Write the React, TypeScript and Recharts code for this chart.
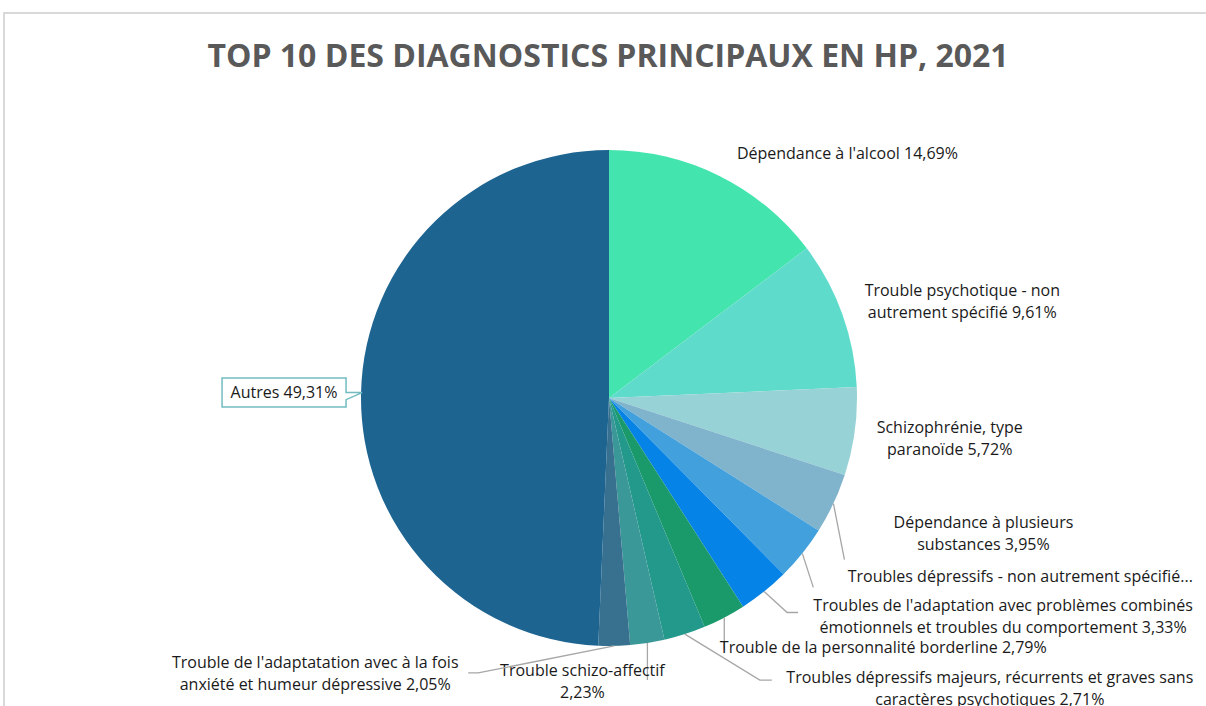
import React from 'react';
import { PieChart, Pie, Cell } from 'recharts';

const categories: string[] = [
  "Dépendance à l'alcool",
  'Trouble psychotique - non autrement spécifié',
  'Schizophrénie, type paranoïde',
  'Dépendance à plusieurs substances',
  'Troubles dépressifs - non autrement spécifié',
  "Troubles de l'adaptation avec problèmes combinés émotionnels et troubles du comportement",
  'Trouble de la personnalité borderline',
  'Troubles dépressifs majeurs, récurrents et graves sans caractères psychotiques',
  'Trouble schizo-affectif',
  "Trouble de l'adaptatation avec à la fois anxiété et humeur dépressive",
  'Autres',
];
const values: number[] = [14.69, 9.61, 5.72, 3.95, 3.61, 3.33, 2.79, 2.71, 2.23, 2.05, 49.31];
const labelLines: string[][] = [
  ["Dépendance à l'alcool 14,69%"],
  ['Trouble psychotique - non', 'autrement spécifié 9,61%'],
  ['Schizophrénie, type', 'paranoïde 5,72%'],
  ['Dépendance à plusieurs', 'substances 3,95%'],
  ['Troubles dépressifs - non autrement spécifié...'],
  ["Troubles de l'adaptation avec problèmes combinés", 'émotionnels et troubles du comportement 3,33%'],
  ['Trouble de la personnalité borderline 2,79%'],
  ['Troubles dépressifs majeurs, récurrents et graves sans', 'caractères psychotiques 2,71%'],
  ['Trouble schizo-affectif', '2,23%'],
  ["Trouble de l'adaptatation avec à la fois", 'anxiété et humeur dépressive 2,05%'],
  ['Autres 49,31%'],
];
const colors: string[] = [
  '#43E4AE', '#5FDBCB', '#96D2D6', '#80B3CC', '#42A0DD', '#0683E6',
  '#1A9A6B', '#22998A', '#3B9898', '#37718F', '#1D6491',
];

const data = categories.map((name, i) => ({ name, value: values[i] }));

// label placement offsets relative to the slice's outer edge point
const labelLayout: { dx: number; dy: number; leader: number[][]; box?: boolean }[] = [
  { dx: 128, dy: -22, leader: [] },
  { dx: 120, dy: -12, leader: [] },
  { dx: 95, dy: 7, leader: [] },
  { dx: 150, dy: 30, leader: [[0, 0], [11, 56]] },
  { dx: 218, dy: 23, leader: [[0, 0], [11, 34]] },
  { dx: 239, dy: 25, leader: [[0, 0], [23, 21], [34, 21]] },
  { dx: 159, dy: 30, leader: [[0, 0], [0, 32]] },
  { dx: 305, dy: 54, leader: [[0, 0], [75, 46], [87, 46]] },
  { dx: -65, dy: 38, leader: [[0, 0], [0, 37]] },
  { dx: -299, dy: 28, leader: [[0, 0], [-136, 27], [-146, 27]] },
  { dx: -77, dy: 0, leader: [], box: true },
];

const RADIAN = Math.PI / 180;
const LINE_H = 22;
const FONT = 16;

const renderLabel = (props: any) => {
  const { cx, cy, midAngle, outerRadius, index } = props;
  const ex = cx + outerRadius * Math.cos(-midAngle * RADIAN);
  const ey = cy + outerRadius * Math.sin(-midAngle * RADIAN);
  const lay = labelLayout[index];
  const lines = labelLines[index];
  const tx = ex + lay.dx;
  const tyc = ey + lay.dy;
  const top = tyc - ((lines.length - 1) * LINE_H) / 2;
  const leader = lay.leader.map(([a, b]) => `${ex + a},${ey + b}`).join(' ');
  let boxEl = null;
  if (lay.box) {
    const w = 124;
    const h = 29;
    const bx = tx - w / 2;
    const by = tyc - h / 2;
    const path = `M${bx},${by} L${bx + w},${by} L${bx + w},${tyc} L${ex + 1},${ey} L${bx + w},${tyc + 7} L${bx + w},${by + h} L${bx},${by + h} Z`;
    boxEl = <path d={path} fill="#ffffff" stroke="#72BCC0" strokeWidth={1.5} />;
  }
  return (
    <g key={`lbl-${index}`}>
      {leader && <polyline points={leader} fill="none" stroke="#A6A6A6" strokeWidth={1.3} />}
      {boxEl}
      <text
        x={tx}
        y={top + 5.5}
        textAnchor="middle"
        fill="#1A1A1A"
        fontSize={FONT}
        fontFamily="'Open Sans', sans-serif"
      >
        {lines.map((l, i) => (
          <tspan key={i} x={tx} y={top + 5.5 + i * LINE_H}>
            {l}
          </tspan>
        ))}
      </text>
    </g>
  );
};

export default function App() {
  return (
    <div
      style={{
        position: 'absolute',
        left: 0,
        top: 0,
        width: 1206,
        height: 706,
        background: '#ffffff',
        overflow: 'hidden',
        fontFamily: "'Open Sans', sans-serif",
      }}
    >
      <div
        style={{
          position: 'absolute',
          left: 3,
          top: 12,
          width: 1230,
          height: 720,
          borderTop: '2px solid #D9D9D9',
          borderLeft: '2px solid #D9D9D9',
        }}
      />
      <div
        style={{
          position: 'absolute',
          left: 0,
          top: 33,
          width: 1216,
          textAlign: 'center',
          fontSize: 32,
          fontWeight: 700,
          color: '#595959',
          lineHeight: '44px',
        }}
      >
        TOP 10 DES DIAGNOSTICS PRINCIPAUX EN HP, 2021
      </div>
      <div style={{ position: 'absolute', left: 0, top: 0 }}>
        <PieChart width={1206} height={706} margin={{ top: 0, right: 0, bottom: 0, left: 0 }}>
          <Pie
            data={data}
            dataKey="value"
            nameKey="name"
            cx={609}
            cy={398}
            outerRadius={248}
            startAngle={90}
            endAngle={-270}
            stroke="none"
            label={renderLabel}
            labelLine={false}
            isAnimationActive={false}
          >
            {data.map((d, i) => (
              <Cell key={d.name} fill={colors[i]} />
            ))}
          </Pie>
        </PieChart>
      </div>
    </div>
  );
}
